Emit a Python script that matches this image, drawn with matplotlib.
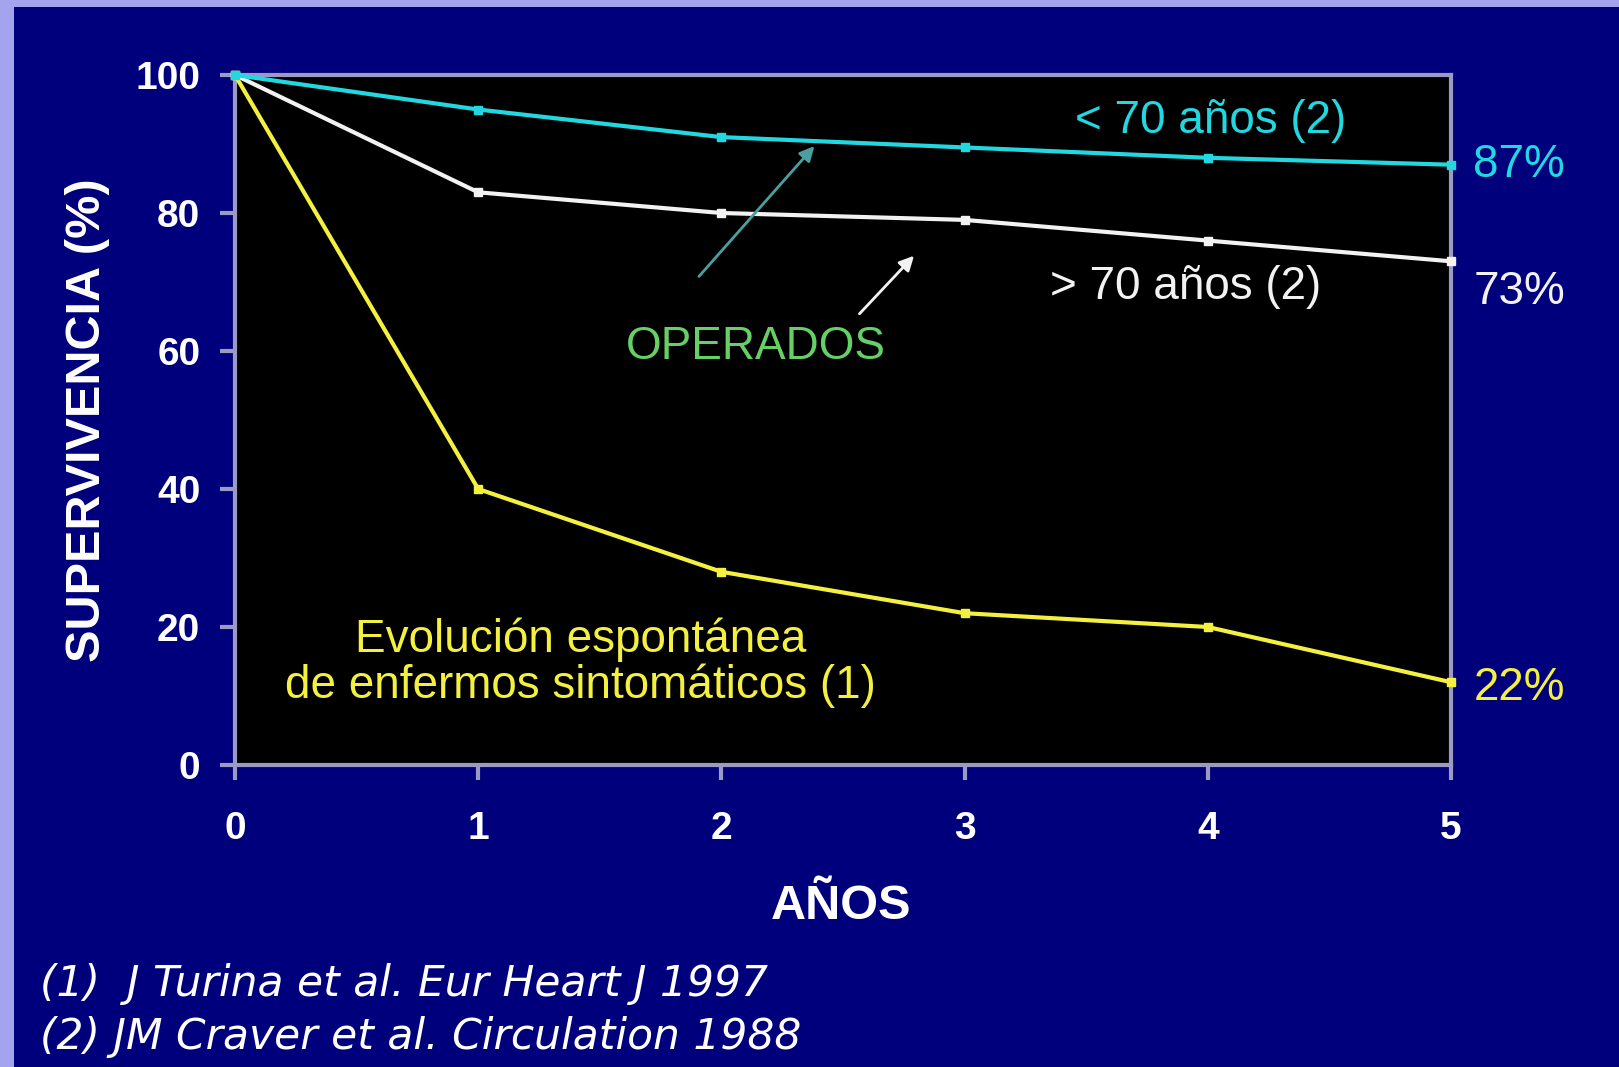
import matplotlib.pyplot as plt
from matplotlib.patches import Rectangle

years = [0, 1, 2, 3, 4, 5]
under_70 = [100, 95, 91, 89.5, 88, 87]
over_70 = [100, 83, 80, 79, 76, 73]
spontaneous = [100, 40, 28, 22, 20, 12]
y_ticks = [0, 20, 40, 60, 80, 100]
end_labels = ["87%", "73%", "22%"]

NAVY = "#00007c"
CYAN = "#22d8e0"
YELLOW = "#f4f040"
WHITE = "#f2f2f2"
GREEN = "#66d066"
SPINE = "#9a9ac4"

fig = plt.figure(figsize=(16.19, 10.67), dpi=100, facecolor="#a4a4ee")
bg = Rectangle((14 / 1619, 0), 1, 1 - 7 / 1067, transform=fig.transFigure,
               facecolor=NAVY, edgecolor="none", zorder=-5)
fig.add_artist(bg)

ax = fig.add_axes([235 / 1619, 1 - 765 / 1067, 1216 / 1619, 690 / 1067])
ax.set_zorder(2)
ax.set_facecolor("black")
ax.set_xlim(0, 5)
ax.set_ylim(0, 100)

ax.plot(years, under_70, color=CYAN, lw=3, marker="s", ms=6, clip_on=False, zorder=4)
ax.plot(years, over_70, color=WHITE, lw=3, marker="s", ms=6, clip_on=False, zorder=3)
ax.plot(years, spontaneous, color=YELLOW, lw=3, marker="s", ms=6, clip_on=False, zorder=3)

for s in ax.spines.values():
    s.set_color(SPINE)
    s.set_linewidth(3)

ax.set_xticks(years)
ax.set_yticks(y_ticks)
ax.tick_params(axis="both", colors=SPINE, width=3, length=11, labelcolor="white")
ax.tick_params(axis="x", pad=22)
ax.tick_params(axis="y", pad=14)
for lab in ax.get_xticklabels() + ax.get_yticklabels():
    lab.set_family("Liberation Sans")
    lab.set_fontweight("bold")
    lab.set_fontsize(28)

# axis titles placed as text so their centres can be matched exactly
ax.text(-0.1215, 0.5, "SUPERVIVENCIA (%)", transform=ax.transAxes, rotation=90,
        family="Liberation Sans", fontweight="bold", fontsize=35, color="white",
        ha="center", va="center")
ax.text(0.498, -0.205, "AÑOS", transform=ax.transAxes, family="Liberation Sans",
        fontweight="bold", fontsize=35, color="white", ha="center", va="center")

txt = dict(family="Liberation Sans", fontsize=33, ha="center", va="center")
ax.text(4.01, 93.3, "< 70 años (2)", color=CYAN, **txt)
ax.text(3.91, 69.3, "> 70 años (2)", color=WHITE, **txt)
ax.text(2.14, 60.6, "OPERADOS", color=GREEN, **txt)
ax.text(1.42, 14.8, "Evolución espontánea\nde enfermos sintomáticos (1)", color=YELLOW,
        linespacing=1.05, **txt)

ax.text(5.28, under_70[-1], end_labels[0], color=CYAN, clip_on=False, **txt)
ax.text(5.28, 68.6, end_labels[1], color=WHITE, clip_on=False, **txt)
ax.text(5.28, 11.1, end_labels[2], color=YELLOW, clip_on=False, **txt)

ax.annotate("", xy=(2.39, 90.0), xytext=(1.90, 70.5),
            arrowprops=dict(arrowstyle="-|>", color="#4aa0a0", lw=2, mutation_scale=22))
ax.annotate("", xy=(2.80, 74.1), xytext=(2.56, 65.1),
            arrowprops=dict(arrowstyle="-|>", color=WHITE, lw=2, mutation_scale=22))

foot = dict(family="DejaVu Sans", style="italic", fontsize=30.5, color="white",
            ha="left", va="center", transform=fig.transFigure)
fig.text(40 / 1619, 1 - 984 / 1067, "(1)  J Turina et al. Eur Heart J 1997", **foot)
fig.text(40 / 1619, 1 - 1037 / 1067, "(2) JM Craver et al. Circulation 1988", **foot)

fig.savefig("out.png", dpi=100, facecolor=fig.get_facecolor())
